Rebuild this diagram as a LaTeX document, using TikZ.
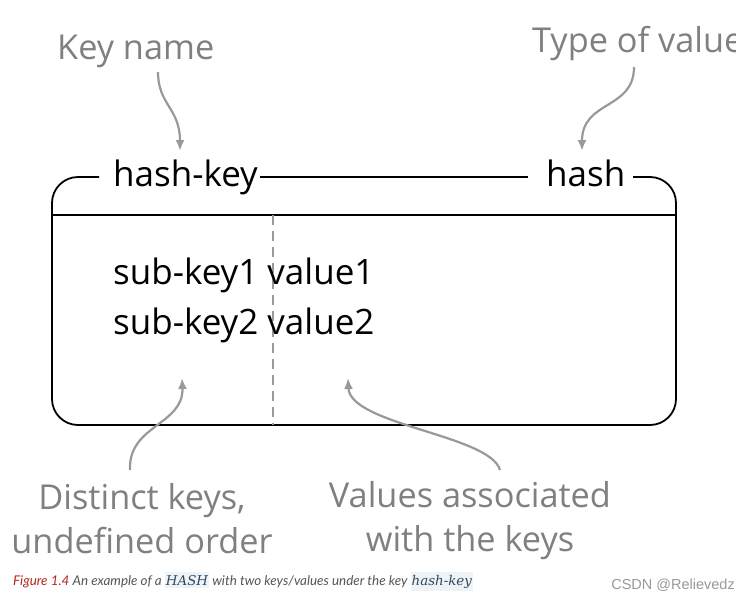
\documentclass[tikz,border=0pt]{standalone}
\usepackage{fontspec}
\setmainfont{Open Sans}
\newfontfamily\capfont{Lato}
\newfontfamily\codefont{DejaVu Serif}
\newfontfamily\wmfont{Liberation Sans}
\usetikzlibrary{arrows.meta}
\definecolor{lbl}{HTML}{808080}
\definecolor{arr}{HTML}{999999}
\definecolor{figred}{HTML}{B5261E}
\definecolor{capgray}{HTML}{555555}
\definecolor{codebg}{HTML}{EEF3F8}
\definecolor{codefg}{HTML}{34495E}
\begin{document}
\begin{tikzpicture}[x=1pt,y=-1pt,
  maintxt/.style={font=\fontsize{35}{40}\selectfont, inner sep=0pt, text=black},
  lbltxt/.style={font=\fontsize{34.3}{44}\selectfont, inner sep=0pt, text=lbl, align=center},
  boxline/.style={line width=1.8pt, black},
  garrow/.style={line width=2.2pt, arr, -{Latex[length=11pt,width=9pt]}},
  ]
\useasboundingbox (0,0) rectangle (750,600);
\fill[white] (0,0) rectangle (750,600);
% header texts
\node[maintxt, anchor=base west] (hk) at (113,186) {hash-key};
\node[maintxt, anchor=base west] (hs) at (546,186) {hash};
% box outline
\coordinate (tl) at (99,177);
\coordinate (tr) at (633,177);
\draw[boxline, rounded corners=26] (tl) -- (52,177) -- (52,425) -- (676,425) -- (676,177) -- (tr);
\draw[boxline] ([xshift=2pt]hk.east |- tl) -- ([xshift=-18pt]hs.west |- tl);
\draw[boxline] (52,215) -- (676,215);
\draw[arr, line width=1.8pt, dash pattern=on 10pt off 6pt] (273,215) -- (273,425);
% content
\node[maintxt, anchor=base west] (r1) at (113,284) {sub-key1 value1};
\node[maintxt, anchor=base west] (r2) at (113,334) {sub-key2 value2};
% labels
\node[lbltxt, anchor=base west] (kn) at (57,59) {Key name};
\begin{scope}
\clip (0,0) rectangle (735,600);
\node[lbltxt, anchor=base west] (tv) at (532,52) {Type of value};
\end{scope}
\node[lbltxt, anchor=base] (dk) at (142,553) {Distinct keys,\\undefined order};
\node[lbltxt, anchor=base] (va) at (470,551) {Values associated\\with the keys};
% arrows
\coordinate (a1s) at (158,72);
\coordinate (a1e) at (180,151);
\draw[garrow] (a1s) .. controls (158,105) and (180,108) .. (a1e);
\coordinate (a2s) at (634,67);
\coordinate (a2e) at (582,151);
\draw[garrow] (a2s) .. controls (634,110) and (582,100) .. (a2e);
\coordinate (a3s) at (130,470);
\coordinate (a3e) at (182,378);
\draw[garrow] (a3s) .. controls (128,425) and (184,425) .. (a3e);
\coordinate (a4s) at (500,470);
\coordinate (a4e) at (348,378);
\draw[garrow] (a4s) .. controls (490,435) and (350,425) .. (a4e);
% caption
\node[anchor=base west, inner sep=0pt, font=\capfont\itshape\fontsize{13.4}{15}\selectfont, text=capgray] (cap) at (13,585)
  {\textcolor{figred}{Figure 1.4} An example of a \colorbox{codebg}{\kern-2pt\codefont\textcolor{codefg}{HASH}\kern-2pt} with two keys/values under the key \colorbox{codebg}{\kern-2pt\codefont\textcolor{codefg}{hash-key}\kern-2pt}};
\node[anchor=base east, inner sep=0pt, font=\wmfont\fontsize{14.5}{16}\selectfont, text=arr] (csdn) at (735,589) {CSDN @Relievedz};
\end{tikzpicture}
\end{document}
